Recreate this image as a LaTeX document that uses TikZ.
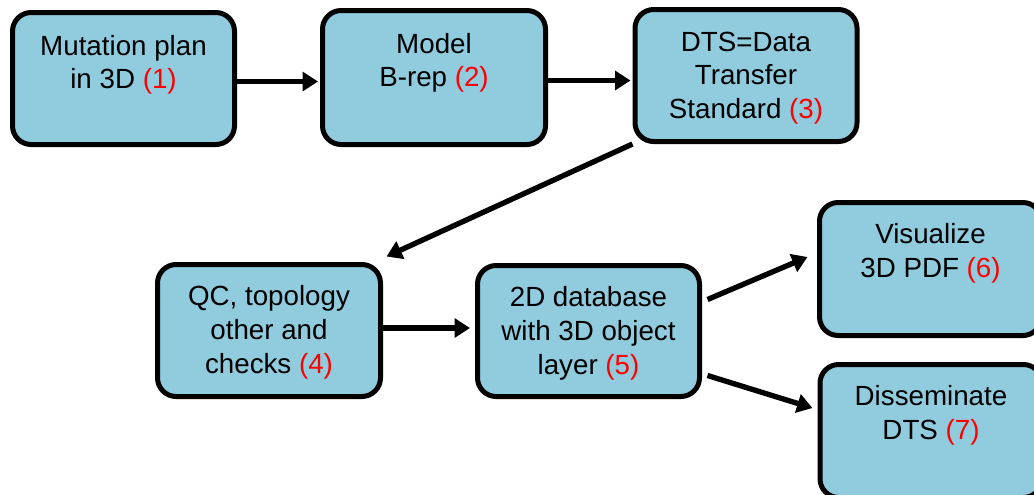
\documentclass[tikz,border=0pt]{standalone}
\usepackage{fontspec}
\setmainfont{Liberation Sans}
\usetikzlibrary{arrows.meta,calc}
\definecolor{boxfill}{RGB}{145,203,222}
\tikzset{
  flowbox/.style={draw=black, line width=3.75pt, fill=boxfill, rounded corners=14pt,
    rectangle, inner sep=0pt},
  boxtext/.style={anchor=north, inner sep=0pt, align=center,
    font=\fontsize{20.8}{25.2}\selectfont},
  conn/.style={line width=4pt, -{Triangle[length=11.5pt,width=14pt]}}
}
\newcommand{\nr}[1]{\textcolor{red}{#1}}
\begin{document}
\begin{tikzpicture}[x=0.75pt, y=-0.75pt]
\useasboundingbox (0,0) rectangle (1034,494);
% boxes
\node[flowbox, minimum width=166.5pt, minimum height=99pt] (b1) at (123.5,78.5) {};
\node[flowbox, minimum width=167.25pt, minimum height=100.5pt] (b2) at (434,77.5) {};
\node[flowbox, minimum width=166.5pt, minimum height=99pt] (b3) at (746,75.5) {};
\node[flowbox, minimum width=167.25pt, minimum height=99pt] (b4) at (269,330.5) {};
\node[flowbox, minimum width=166.5pt, minimum height=98.25pt] (b5) at (588.5,331) {};
\node[flowbox, minimum width=166.5pt, minimum height=99.75pt] (b6) at (930.5,269) {};
\node[flowbox, minimum width=166.5pt, minimum height=99.75pt] (b7) at (931,431) {};
% texts
\node[boxtext] (t1) at ($(b1.north)+(0,25)$) {Mutation plan\\in 3D \nr{(1)}};
\node[boxtext] (t2) at ($(b2.north)+(0,25)$) {Model\\B-rep \nr{(2)}};
\node[boxtext] (t3) at ($(b3.north)+(0,24.5)$) {DTS=Data\\Transfer\\Standard \nr{(3)}};
\node[boxtext] (t4) at ($(b4.north)+(0,23.5)$) {QC, topology\\other and\\checks \nr{(4)}};
\node[boxtext] (t5) at ($(b5.north)+(0,23.5)$) {2D database\\with 3D object\\layer \nr{(5)}};
\node[boxtext] (t6) at ($(b6.north)+(0,23.5)$) {Visualize\\3D PDF \nr{(6)}};
\node[boxtext] (t7) at ($(b7.north)+(0,23.5)$) {Disseminate\\DTS \nr{(7)}};
% connectors
\draw[conn] ($(b1.east)+(0,3)$) -- ($(b2.west)+(-2,4)$);
\draw[conn] ($(b2.east)+(0,3)$) -- ($(b3.west)+(-2,5)$);
\draw[conn] (b3.south west) -- ($(b4.north east)+(3.5,-5.5)$);
\draw[conn] ($(b4.east)+(0,-2.5)$) -- ($(b5.west)+(-5,-3)$);
\draw[conn] ($(b5.north east)+(5.5,36.5)$) -- ($(b6.west)+(-9.5,-12)$);
\draw[conn] ($(b5.south east)+(5.5,-23.5)$) -- ($(b7.west)+(-5,-23)$);
\end{tikzpicture}
\end{document}
